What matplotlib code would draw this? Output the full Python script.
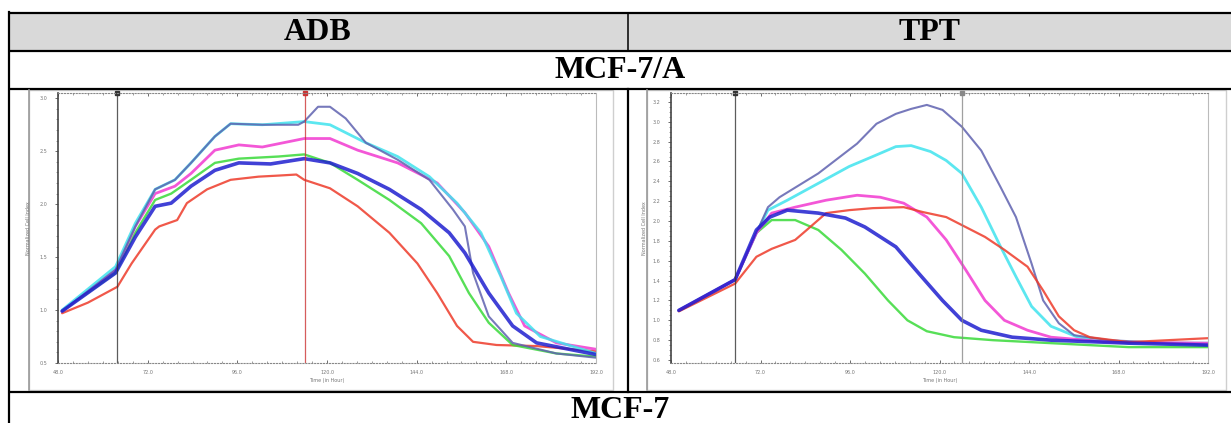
import numpy as np
import matplotlib.pyplot as plt
from matplotlib.patches import Rectangle
from matplotlib.ticker import MultipleLocator, FixedLocator

W, H = 1231, 423

# ---- table text
col_labels = ["ADB", "TPT"]
row_label = "MCF-7/A"
next_row_label = "MCF-7"

# ---- shared x axis (hours)
x_ticks = [48.0, 72.0, 96.0, 120.0, 144.0, 168.0, 192.0]

# ---- ADB panel (normalized cell index)
adb_yticks = [0.5, 1.0, 1.5, 2.0, 2.5, 3.0]
adb_marks = [63.7, 114.0]

adb_red_t = [49.1, 56.0, 63.9, 67.7, 74.0, 75.1, 79.9, 82.5, 87.9, 94.2, 101.7, 107.0, 111.8, 113.9,
             120.8, 128.2, 136.7, 144.2, 149.5, 154.8, 159.1, 165.4, 176.1, 192.0]
adb_red_v = [0.97, 1.07, 1.22, 1.44, 1.76, 1.79, 1.85, 2.01, 2.14, 2.23, 2.26, 2.27, 2.28, 2.23,
             2.15, 1.98, 1.73, 1.44, 1.16, 0.85, 0.70, 0.67, 0.66, 0.61]

adb_green_t = [49.1, 63.4, 68.7, 74.0, 78.3, 83.6, 90.0, 96.4, 107.0, 113.9, 120.8, 128.2, 136.7,
               145.2, 152.7, 158.0, 163.3, 169.7, 181.4, 192.0]
adb_green_v = [0.99, 1.35, 1.73, 2.04, 2.10, 2.23, 2.39, 2.43, 2.45, 2.47, 2.39, 2.23, 2.04,
               1.82, 1.51, 1.16, 0.88, 0.67, 0.59, 0.56]

adb_blue_t = [49.1, 63.4, 68.7, 74.0, 78.3, 83.6, 90.0, 96.4, 104.9, 113.9, 120.8, 128.2, 136.7,
              145.2, 152.7, 156.9, 163.3, 169.7, 176.1, 192.0]
adb_blue_v = [0.99, 1.35, 1.69, 1.98, 2.01, 2.17, 2.32, 2.39, 2.38, 2.43, 2.39, 2.29, 2.14,
              1.95, 1.73, 1.54, 1.16, 0.85, 0.69, 0.58]

adb_magenta_t = [49.1, 63.4, 68.7, 74.0, 79.3, 83.6, 90.0, 96.4, 102.7, 113.9, 120.8, 128.2, 138.9,
                 149.5, 156.9, 163.3, 168.6, 172.9, 181.4, 192.0]
adb_magenta_v = [0.99, 1.38, 1.79, 2.10, 2.17, 2.29, 2.51, 2.56, 2.54, 2.62, 2.62, 2.51, 2.39,
                 2.20, 1.92, 1.60, 1.16, 0.85, 0.69, 0.63]

adb_cyan_t = [49.1, 63.4, 68.7, 74.0, 79.3, 83.6, 90.0, 94.2, 102.7, 113.9, 120.8, 130.4, 138.9,
              147.4, 154.8, 161.2, 166.5, 170.7, 177.1, 192.0]
adb_cyan_v = [1.00, 1.41, 1.82, 2.14, 2.23, 2.39, 2.64, 2.76, 2.75, 2.78, 2.75, 2.58, 2.45,
              2.26, 2.01, 1.73, 1.32, 0.97, 0.75, 0.59]

adb_purple_t = [49.1, 63.4, 68.7, 74.0, 79.3, 83.6, 90.0, 94.2, 102.7, 112.3, 113.9, 117.6, 120.8,
                125.0, 130.4, 138.9, 147.4, 153.7, 156.9, 159.1, 163.3, 169.7, 181.4, 192.0]
adb_purple_v = [0.99, 1.38, 1.79, 2.14, 2.23, 2.39, 2.64, 2.76, 2.75, 2.75, 2.78, 2.92, 2.92,
                2.81, 2.58, 2.42, 2.23, 1.95, 1.79, 1.35, 0.94, 0.69, 0.59, 0.55]

# ---- TPT panel
tpt_yticks = [0.6, 0.8, 1.0, 1.2, 1.4, 1.6, 1.8, 2.0, 2.2, 2.4, 2.6, 2.8, 3.0, 3.2]
tpt_marks = [65.2, 126.0]

tpt_purple_t = [50.1, 65.2, 70.9, 74.0, 77.1, 87.5, 97.9, 103.1, 108.3, 112.4, 116.6, 120.8, 126.0,
                131.2, 136.4, 140.5, 144.7, 147.8, 152.0, 156.1, 165.5, 181.1, 192.0]
tpt_purple_v = [1.10, 1.41, 1.88, 2.14, 2.24, 2.48, 2.78, 2.98, 3.08, 3.13, 3.17, 3.12, 2.95,
                2.71, 2.34, 2.04, 1.57, 1.20, 0.97, 0.85, 0.80, 0.77, 0.75]

tpt_cyan_t = [50.1, 65.2, 70.9, 74.0, 79.2, 87.5, 95.8, 102.1, 108.3, 112.4, 117.6, 121.8, 126.0,
              131.2, 136.4, 140.5, 144.7, 149.9, 157.1, 170.7, 192.0]
tpt_cyan_v = [1.10, 1.41, 1.88, 2.11, 2.21, 2.38, 2.55, 2.65, 2.75, 2.76, 2.70, 2.61, 2.48,
              2.14, 1.74, 1.44, 1.14, 0.94, 0.83, 0.77, 0.77]

tpt_magenta_t = [50.1, 65.2, 70.9, 75.0, 81.3, 89.6, 97.9, 104.1, 110.4, 116.6, 121.8, 127.0, 132.2,
                 137.4, 143.6, 149.9, 165.5, 192.0]
tpt_magenta_v = [1.10, 1.41, 1.88, 2.08, 2.14, 2.21, 2.26, 2.24, 2.18, 2.04, 1.81, 1.51, 1.20,
                 1.00, 0.90, 0.83, 0.78, 0.77]

tpt_blue_t = [50.1, 65.2, 70.9, 74.5, 79.2, 87.5, 94.8, 100.0, 108.3, 114.5, 120.8, 126.0, 131.2,
              139.5, 149.9, 170.7, 192.0]
tpt_blue_v = [1.10, 1.41, 1.91, 2.04, 2.11, 2.08, 2.03, 1.94, 1.74, 1.47, 1.20, 1.00, 0.90,
              0.83, 0.80, 0.77, 0.75]

tpt_green_t = [50.1, 65.2, 70.9, 75.0, 81.3, 87.5, 93.7, 100.0, 106.2, 111.4, 116.6, 123.9, 134.3,
               149.9, 170.7, 192.0]
tpt_green_v = [1.10, 1.41, 1.88, 2.01, 2.01, 1.91, 1.71, 1.47, 1.20, 1.00, 0.89, 0.83, 0.80,
               0.77, 0.73, 0.73]

tpt_red_t = [50.1, 65.2, 70.9, 75.0, 81.3, 84.4, 89.6, 95.8, 102.1, 110.4, 115.6, 121.8, 127.0,
             132.2, 137.4, 143.6, 147.8, 152.0, 156.1, 160.3, 170.7, 192.0]
tpt_red_v = [1.09, 1.37, 1.64, 1.72, 1.81, 1.91, 2.08, 2.11, 2.13, 2.14, 2.09, 2.04, 1.94,
             1.84, 1.71, 1.54, 1.30, 1.04, 0.90, 0.83, 0.78, 0.82]

C_RED, C_GREEN, C_BLUE = "#ee3b2a", "#3ada3a", "#1f1fcf"
C_MAG, C_CYAN, C_PURP = "#f23ad0", "#3fe3ee", "#5f62b0"

adb_series = [
    (adb_red_t, adb_red_v, C_RED, 1.6),
    (adb_green_t, adb_green_v, C_GREEN, 1.7),
    (adb_magenta_t, adb_magenta_v, C_MAG, 2.0),
    (adb_cyan_t, adb_cyan_v, C_CYAN, 2.0),
    (adb_purple_t, adb_purple_v, C_PURP, 1.5),
    (adb_blue_t, adb_blue_v, C_BLUE, 2.6),
]
tpt_series = [
    (tpt_green_t, tpt_green_v, C_GREEN, 1.7),
    (tpt_cyan_t, tpt_cyan_v, C_CYAN, 2.0),
    (tpt_purple_t, tpt_purple_v, C_PURP, 1.5),
    (tpt_magenta_t, tpt_magenta_v, C_MAG, 2.0),
    (tpt_red_t, tpt_red_v, C_RED, 1.6),
    (tpt_blue_t, tpt_blue_v, C_BLUE, 2.6),
]


def px_rect(x0, y0, x1, y1):
    # pixel box (top-left origin) -> figure fraction
    return [x0 / W, 1 - y1 / H, (x1 - x0) / W, (y1 - y0) / H]


fig = plt.figure(figsize=(W / 100, H / 100), dpi=100)

# ---------- table background
bg = fig.add_axes([0, 0, 1, 1])
bg.set_xlim(0, W)
bg.set_ylim(H, 0)
bg.axis("off")

bg.add_patch(Rectangle((9, 13), W - 9, 38, facecolor="#d9d9d9", edgecolor="none"))
for y in [13, 51, 89, 392]:
    bg.plot([8, W], [y, y], color="black", lw=1.6, solid_capstyle="butt")
bg.plot([9, 9], [12, H], color="black", lw=1.6)
bg.plot([628, 628], [13, 51], color="black", lw=1.1)
bg.plot([628, 628], [89, 392], color="black", lw=1.6)

tfont = dict(family="Liberation Serif", fontweight="bold", fontsize=23, ha="center", va="center")
bg.text(318, 33, col_labels[0], **tfont)
bg.text(930, 33, col_labels[1], **tfont)
bg.text(620, 71, row_label, **tfont)
bg.text(620, 410, next_row_label, **tfont)

# screenshot frames
for fx0, fx1 in [(29, 613), (647, 1226)]:
    bg.add_patch(Rectangle((fx0, 90), fx1 - fx0, 300, facecolor="white",
                           edgecolor="#cfcfcf", lw=1.0))
    bg.plot([fx0, fx0], [90, 390], color="#9a9a9a", lw=1.2)


def draw_chart(rect, series, ylim, yticks, ysub, marks, mark_colors, ylab_x):
    ax = fig.add_axes(px_rect(*rect))
    for t, v, c, lw in series:
        ax.plot(t, v, color=c, lw=lw, alpha=0.85, solid_joinstyle="round",
                solid_capstyle="round")
    ax.set_xlim(48, 192)
    ax.set_ylim(*ylim)
    for m, mc in zip(marks, mark_colors):
        ax.axvline(m, color=mc, lw=0.9, alpha=0.8)
        ax.plot([m], [ylim[1]], marker="s", ms=2.5, color=mc, clip_on=False)
    ax.xaxis.set_major_locator(FixedLocator(x_ticks))
    ax.xaxis.set_minor_locator(MultipleLocator(4))
    ax.yaxis.set_major_locator(FixedLocator(yticks))
    ax.yaxis.set_minor_locator(MultipleLocator(ysub))
    ax.set_xticklabels([f"{v:.1f}" for v in x_ticks])
    ax.set_yticklabels([f"{v:.1f}" for v in yticks])
    ax.tick_params(labelsize=3.5, labelcolor="#777777", colors="#555555", length=2.5,
                   width=0.6, pad=5)
    ax.tick_params(which="minor", length=1.5, width=0.5, colors="#777777")
    ax.tick_params(axis="x", top=True, which="both", direction="in")
    for side in ["top", "bottom"]:
        ax.spines[side].set_linestyle(":")
        ax.spines[side].set_color("#888888")
        ax.spines[side].set_linewidth(0.8)
    ax.spines["left"].set_color("#444444")
    ax.spines["left"].set_linewidth(1.2)
    ax.spines["right"].set_color("#bbbbbb")
    ax.spines["right"].set_linewidth(0.8)
    ax.set_xlabel("Time (in Hour)", fontsize=3.5, color="#777777", labelpad=2)
    ax.set_ylabel("Normalized Cell Index", fontsize=3.5, color="#777777")
    ax.yaxis.set_label_coords(ylab_x, 0.5)
    return ax


draw_chart((58, 93, 596, 363), adb_series, (0.5, 3.05), adb_yticks, 0.1,
           adb_marks, ["#333333", "#cc3333"], -0.05)
draw_chart((671, 93, 1208, 363), tpt_series, (0.57, 3.29), tpt_yticks, 0.05,
           tpt_marks, ["#333333", "#888888"], -0.045)

fig.savefig("out.png", dpi=100)
